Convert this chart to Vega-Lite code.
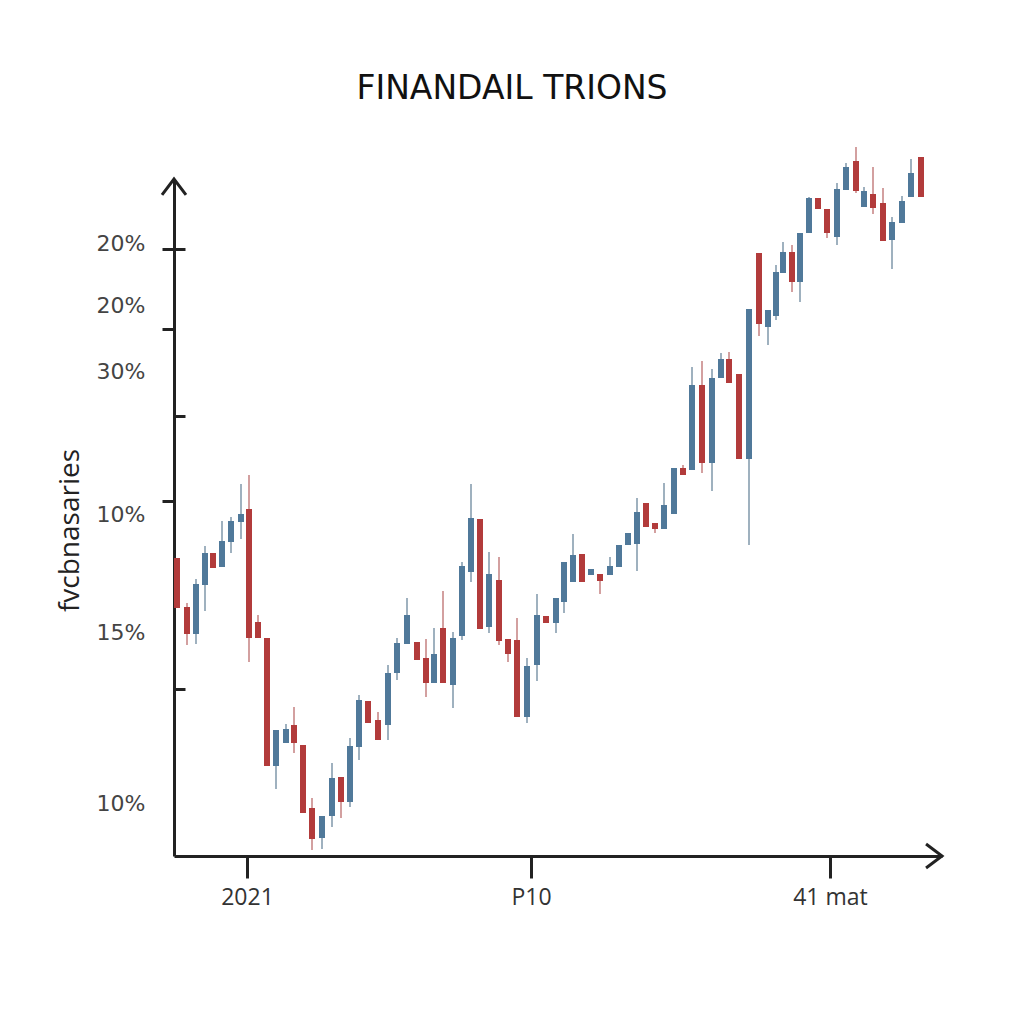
{
  "$schema": "https://vega.github.io/schema/vega-lite/v6.json",
  "width": 768,
  "height": 677,
  "autosize": "none",
  "padding": {"left": 174, "top": 179, "right": 82, "bottom": 168},
  "background": "white",
  "config": {"view": {"stroke": null}},
  "title": {"text": "FINANDAIL TRIONS", "frame": "group", "anchor": "middle", "dx": -46, "fontSize": 33, "font": "DejaVu Sans", "fontWeight": "normal", "color": "#111111", "offset": 40},
  "datasets": {
    "candles": [
      {"x": 3, "open": 298, "close": 248, "high": 298, "low": 248, "dir": "down"},
      {"x": 13, "open": 249, "close": 222, "high": 253, "low": 211, "dir": "down"},
      {"x": 22, "open": 222, "close": 272, "high": 277, "low": 212, "dir": "up"},
      {"x": 31, "open": 271, "close": 303, "high": 310, "low": 245, "dir": "up"},
      {"x": 39, "open": 303, "close": 288, "high": 303, "low": 288, "dir": "down"},
      {"x": 48, "open": 289, "close": 315, "high": 335, "low": 289, "dir": "up"},
      {"x": 57, "open": 314, "close": 335, "high": 339, "low": 303, "dir": "up"},
      {"x": 67, "open": 334, "close": 342, "high": 372, "low": 317, "dir": "up"},
      {"x": 75, "open": 347, "close": 218, "high": 381, "low": 194, "dir": "down"},
      {"x": 84, "open": 234, "close": 218, "high": 241, "low": 218, "dir": "down"},
      {"x": 93, "open": 218, "close": 90, "high": 218, "low": 90, "dir": "down"},
      {"x": 102, "open": 90, "close": 126, "high": 126, "low": 67, "dir": "up"},
      {"x": 112, "open": 113, "close": 127, "high": 132, "low": 113, "dir": "up"},
      {"x": 120, "open": 131, "close": 113, "high": 149, "low": 103, "dir": "down"},
      {"x": 129, "open": 111, "close": 43, "high": 111, "low": 43, "dir": "down"},
      {"x": 138, "open": 48, "close": 17, "high": 58, "low": 6, "dir": "down"},
      {"x": 148, "open": 18, "close": 40, "high": 40, "low": 7, "dir": "up"},
      {"x": 158, "open": 40, "close": 78, "high": 93, "low": 29, "dir": "up"},
      {"x": 167, "open": 79, "close": 54, "high": 79, "low": 38, "dir": "down"},
      {"x": 176, "open": 54, "close": 110, "high": 118, "low": 49, "dir": "up"},
      {"x": 185, "open": 109, "close": 156, "high": 161, "low": 96, "dir": "up"},
      {"x": 194, "open": 155, "close": 133, "high": 155, "low": 133, "dir": "down"},
      {"x": 204, "open": 136, "close": 116, "high": 144, "low": 116, "dir": "down"},
      {"x": 214, "open": 131, "close": 183, "high": 191, "low": 116, "dir": "up"},
      {"x": 223, "open": 183, "close": 213, "high": 218, "low": 176, "dir": "up"},
      {"x": 233, "open": 212, "close": 241, "high": 258, "low": 212, "dir": "up"},
      {"x": 243, "open": 214, "close": 196, "high": 214, "low": 196, "dir": "down"},
      {"x": 252, "open": 198, "close": 173, "high": 217, "low": 159, "dir": "down"},
      {"x": 260, "open": 173, "close": 202, "high": 228, "low": 173, "dir": "up"},
      {"x": 269, "open": 228, "close": 173, "high": 265, "low": 173, "dir": "down"},
      {"x": 279, "open": 171, "close": 218, "high": 224, "low": 148, "dir": "up"},
      {"x": 288, "open": 220, "close": 290, "high": 294, "low": 216, "dir": "up"},
      {"x": 297, "open": 284, "close": 338, "high": 372, "low": 274, "dir": "up"},
      {"x": 306, "open": 337, "close": 227, "high": 337, "low": 227, "dir": "down"},
      {"x": 315, "open": 229, "close": 282, "high": 304, "low": 223, "dir": "up"},
      {"x": 325, "open": 276, "close": 215, "high": 299, "low": 211, "dir": "down"},
      {"x": 334, "open": 217, "close": 202, "high": 217, "low": 194, "dir": "down"},
      {"x": 343, "open": 216, "close": 139, "high": 238, "low": 139, "dir": "down"},
      {"x": 353, "open": 139, "close": 190, "high": 198, "low": 133, "dir": "up"},
      {"x": 363, "open": 191, "close": 241, "high": 262, "low": 175, "dir": "up"},
      {"x": 372, "open": 240, "close": 233, "high": 240, "low": 233, "dir": "down"},
      {"x": 382, "open": 233, "close": 258, "high": 258, "low": 223, "dir": "up"},
      {"x": 390, "open": 254, "close": 294, "high": 294, "low": 243, "dir": "up"},
      {"x": 399, "open": 274, "close": 301, "high": 322, "low": 274, "dir": "up"},
      {"x": 408, "open": 302, "close": 274, "high": 302, "low": 274, "dir": "down"},
      {"x": 417, "open": 281, "close": 287, "high": 287, "low": 281, "dir": "up"},
      {"x": 426, "open": 282, "close": 275, "high": 282, "low": 262, "dir": "down"},
      {"x": 436, "open": 281, "close": 290, "high": 299, "low": 281, "dir": "up"},
      {"x": 445, "open": 289, "close": 311, "high": 311, "low": 289, "dir": "up"},
      {"x": 454, "open": 311, "close": 323, "high": 323, "low": 311, "dir": "up"},
      {"x": 463, "open": 312, "close": 344, "high": 358, "low": 285, "dir": "up"},
      {"x": 472, "open": 353, "close": 329, "high": 353, "low": 329, "dir": "down"},
      {"x": 481, "open": 333, "close": 327, "high": 333, "low": 323, "dir": "down"},
      {"x": 490, "open": 327, "close": 351, "high": 373, "low": 327, "dir": "up"},
      {"x": 500, "open": 342, "close": 388, "high": 388, "low": 342, "dir": "up"},
      {"x": 509, "open": 388, "close": 381, "high": 391, "low": 381, "dir": "down"},
      {"x": 518, "open": 386, "close": 471, "high": 489, "low": 386, "dir": "up"},
      {"x": 528, "open": 471, "close": 393, "high": 495, "low": 383, "dir": "down"},
      {"x": 538, "open": 393, "close": 478, "high": 487, "low": 365, "dir": "up"},
      {"x": 547, "open": 478, "close": 497, "high": 503, "low": 478, "dir": "up"},
      {"x": 555, "open": 497, "close": 473, "high": 504, "low": 473, "dir": "down"},
      {"x": 565, "open": 482, "close": 397, "high": 482, "low": 397, "dir": "down"},
      {"x": 575, "open": 397, "close": 547, "high": 547, "low": 311, "dir": "up"},
      {"x": 585, "open": 603, "close": 532, "high": 603, "low": 520, "dir": "down"},
      {"x": 594, "open": 529, "close": 546, "high": 546, "low": 511, "dir": "up"},
      {"x": 602, "open": 540, "close": 584, "high": 591, "low": 536, "dir": "up"},
      {"x": 609, "open": 583, "close": 604, "high": 614, "low": 583, "dir": "up"},
      {"x": 618, "open": 604, "close": 574, "high": 611, "low": 564, "dir": "down"},
      {"x": 626, "open": 574, "close": 623, "high": 623, "low": 554, "dir": "up"},
      {"x": 635, "open": 623, "close": 658, "high": 659, "low": 623, "dir": "up"},
      {"x": 644, "open": 658, "close": 647, "high": 658, "low": 647, "dir": "down"},
      {"x": 653, "open": 647, "close": 623, "high": 647, "low": 618, "dir": "down"},
      {"x": 663, "open": 619, "close": 667, "high": 673, "low": 611, "dir": "up"},
      {"x": 672, "open": 666, "close": 689, "high": 693, "low": 666, "dir": "up"},
      {"x": 682, "open": 695, "close": 665, "high": 709, "low": 663, "dir": "down"},
      {"x": 690, "open": 649, "close": 665, "high": 669, "low": 649, "dir": "up"},
      {"x": 699, "open": 662, "close": 648, "high": 689, "low": 642, "dir": "down"},
      {"x": 709, "open": 653, "close": 615, "high": 668, "low": 615, "dir": "down"},
      {"x": 718, "open": 616, "close": 634, "high": 639, "low": 587, "dir": "up"},
      {"x": 728, "open": 633, "close": 655, "high": 660, "low": 633, "dir": "up"},
      {"x": 737, "open": 659, "close": 683, "high": 697, "low": 659, "dir": "up"},
      {"x": 747, "open": 699, "close": 659, "high": 699, "low": 659, "dir": "down"}
    ]
  },
  "resolve": {"axis": {"y": "independent"}},
  "layer": [
    {
      "data": {"name": "candles"},
      "mark": {"type": "rule", "strokeWidth": 1.5},
      "encoding": {
        "x": {
          "field": "x", "type": "quantitative",
          "scale": {"domain": [0, 768], "nice": false, "zero": false, "padding": 0},
          "axis": {
            "values": [73, 357, 656], "title": null, "grid": false,
            "labelExpr": "datum.value < 100 ? '2021' : datum.value < 500 ? 'P10' : '41 mat'",
            "tickSize": 22, "tickWidth": 3, "tickColor": "#222222",
            "domain": true, "domainColor": "#222222", "domainWidth": 3,
            "labelFont": "Open Sans", "labelFontSize": 23, "labelColor": "#333333",
            "labelPadding": 8, "labelFlush": false, "labelOverlap": false
          }
        },
        "y": {
          "field": "low", "type": "quantitative",
          "scale": {"domain": [0, 677], "nice": false, "zero": false},
          "axis": {
            "orient": "left",
            "values": [613, 551, 485, 342, 224, 53], "grid": false,
            "labelExpr": "datum.value == 485 ? '30%' : datum.value == 224 ? '15%' : datum.value > 500 ? '20%' : '10%'",
            "ticks": false, "domain": true, "domainColor": "#222222", "domainWidth": 3,
            "labelFont": "DejaVu Sans", "labelFontSize": 22, "labelColor": "#444444",
            "labelPadding": 29, "labelOverlap": false, "labelFlush": false,
            "title": "fvcbnasaries", "titleFont": "Open Sans", "titleFontSize": 28,
            "titleFontWeight": "normal", "titleColor": "#222222", "titlePadding": 12,
            "titleY": 351
          }
        },
        "y2": {"field": "high"},
        "color": {"condition": {"test": "datum.dir == 'up'", "value": "#7f97aa"}, "value": "#c48080"}
      }
    },
    {
      "data": {"name": "candles"},
      "mark": {"type": "bar", "size": 6},
      "encoding": {
        "x": {"field": "x", "type": "quantitative"},
        "y": {
          "field": "open", "type": "quantitative",
          "axis": {
            "orient": "left", "values": [607, 527, 355], "grid": false,
            "labels": false, "domain": false, "title": null,
            "tickSize": 12, "tickWidth": 3, "tickColor": "#222222"
          }
        },
        "y2": {"field": "close"},
        "color": {"condition": {"test": "datum.dir == 'up'", "value": "#50799a"}, "value": "#b23b3b"}
      }
    },
    {
      "data": {"values": [{"k": "yarrow"}]},
      "mark": {"type": "point", "filled": false, "strokeWidth": 3, "color": "#222222", "size": 576, "shape": "M-1,1.33L0,0L1,1.33", "strokeJoin": "miter", "opacity": 1},
      "encoding": {
        "x": {"datum": 0, "type": "quantitative"},
        "y": {
          "datum": 677, "type": "quantitative",
          "axis": {
            "orient": "left", "values": [607, 440, 167], "grid": false,
            "labels": false, "domain": false, "title": null, "offset": -11,
            "tickSize": 11, "tickWidth": 3, "tickColor": "#222222"
          }
        }
      }
    },
    {
      "data": {"values": [{"k": "xarrow"}]},
      "mark": {"type": "point", "filled": false, "strokeWidth": 3, "color": "#222222", "size": 576, "shape": "M-1.33,-1L0,0L-1.33,1", "strokeJoin": "miter", "opacity": 1},
      "encoding": {
        "x": {"datum": 768, "type": "quantitative"},
        "y": {"datum": 0, "type": "quantitative", "axis": null}
      }
    }
  ]
}
